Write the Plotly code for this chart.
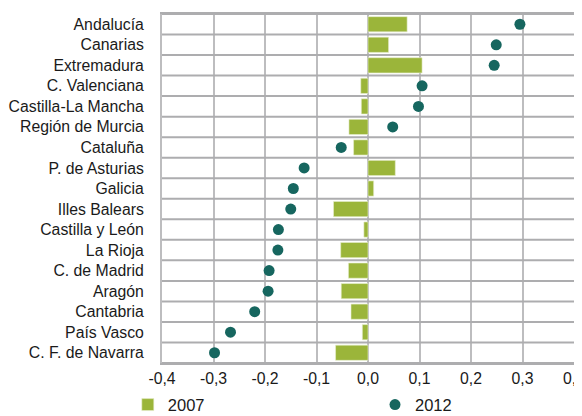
import plotly.graph_objects as go

regions = ["Andalucía", "Canarias", "Extremadura", "C. Valenciana", "Castilla-La Mancha",
           "Región de Murcia", "Cataluña", "P. de Asturias", "Galicia", "Illes Balears",
           "Castilla y León", "La Rioja", "C. de Madrid", "Aragón", "Cantabria",
           "País Vasco", "C. F. de Navarra"]
v2007 = [0.076, 0.040, 0.105, -0.014, -0.013, -0.037, -0.028, 0.053, 0.011, -0.067,
         -0.008, -0.053, -0.038, -0.052, -0.033, -0.011, -0.063]
v2012 = [0.295, 0.249, 0.245, 0.105, 0.098, 0.048, -0.052, -0.124, -0.145, -0.150,
         -0.174, -0.175, -0.192, -0.194, -0.220, -0.267, -0.298]
xticks = [-0.4, -0.3, -0.2, -0.1, 0.0, 0.1, 0.2, 0.3, 0.4]
xticklabels = ["-0,4", "-0,3", "-0,2", "-0,1", "0,0", "0,1", "0,2", "0,3", "0,4"]

n = len(regions)
ypos = list(range(n))
bounds = [i - 0.5 for i in range(n + 1)]

fig = go.Figure()
fig.add_trace(go.Bar(y=ypos, x=v2007, orientation="h", name="2007", legend="legend",
                     marker=dict(color="#9BB53A", line=dict(color="#E8EFD0", width=0.6)),
                     width=0.74))
fig.add_trace(go.Scatter(y=ypos, x=v2012, mode="markers", name="2012", legend="legend2",
                         marker=dict(color="#16665F", size=11)))

grid = "#BDBDBF"
hgrid = "#ADADAF"
# horizontal grid lines on the category boundaries
for b in bounds:
    fig.add_hline(y=b, line=dict(color=hgrid, width=2), layer="above")

leg = dict(orientation="h", xanchor="left", y=-0.12, yanchor="middle",
           font=dict(size=16.5), bgcolor="rgba(0,0,0,0)")
fig.update_layout(
    width=582, height=416,
    margin=dict(l=154, r=16, t=6, b=61, autoexpand=False),
    paper_bgcolor="white", plot_bgcolor="white",
    font=dict(family="Liberation Sans, Arial, sans-serif", size=15.8, color="#1a1a1a"),
    showlegend=True,
    legend=dict(leg, x=-0.083),
    legend2=dict(leg, x=0.517),
    xaxis=dict(range=[-0.4, 0.4], tickvals=xticks, ticktext=xticklabels,
               showgrid=True, gridcolor=grid, gridwidth=2, zeroline=False,
               showline=True, linecolor=hgrid, linewidth=2, mirror="all",
               ticks="", automargin=False),
    yaxis=dict(range=[n - 0.5, -0.5], tickmode="array", tickvals=ypos, ticktext=regions,
               showgrid=False, zeroline=False, ticks="",
               ticklabelstandoff=13, automargin=False,
               showline=True, linecolor=grid, linewidth=2, mirror="all"),
)
fig.write_html("out.html")
